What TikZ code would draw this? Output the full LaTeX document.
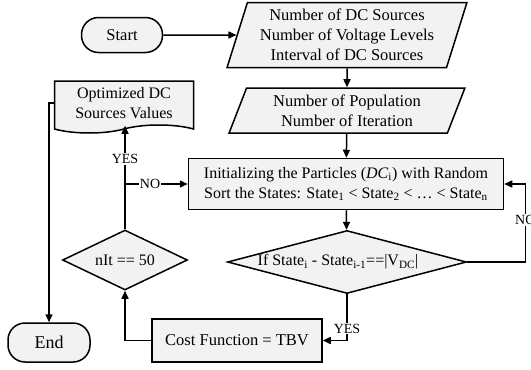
\documentclass[tikz,border=0pt]{standalone}
\usepackage{fontspec}
\setmainfont{Liberation Serif}
\usetikzlibrary{shapes.geometric,shapes.symbols,arrows.meta}
\definecolor{boxgray}{RGB}{242,242,242}

\begin{document}
\begin{tikzpicture}[
		x=1pt,y=-1pt,
		font=\fontsize{16.5}{20}\selectfont,
		box/.style={rectangle,draw,fill=boxgray,line width=1.5pt,align=center,inner sep=0pt},
		terminal/.style={box,rounded corners=17pt},
		io/.style={box,trapezium,trapezium stretches=true},
		decision/.style={box,diamond,aspect=2},
		output/.style={box,tape,tape bend top=none,tape bend bottom=in and out,tape bend height=8pt},
		flow/.style={line width=1.5pt,-{Triangle[length=8pt,width=7pt]}},
		lbl/.style={fill=white,inner sep=1pt,font=\fontsize{14}{16}\selectfont}
	]
	\useasboundingbox (0,0) rectangle (531,370);

	\node[terminal,minimum width=81pt,minimum height=35pt] (start) at (122,35) {Start};
	\node[io,trapezium left angle=71,trapezium right angle=109,
		minimum width=240pt,minimum height=65pt] (sources) at (347,35)
		{Number of DC Sources\\Number of Voltage Levels\\Interval of DC Sources};
	\node[io,trapezium left angle=68,trapezium right angle=112,
		minimum width=236pt,minimum height=45pt] (population) at (347,110.5)
		{Number of Population\\Number of Iteration};
	\node[box,minimum width=315pt,minimum height=51pt,font=\fontsize{16}{20}\selectfont] (init) at (346,184)
		{Initializing the Particles (\textit{DC}\textsubscript{i}) with Random\\
		Sort the States: State\textsubscript{1} < State\textsubscript{2} < … < State\textsubscript{n}};
	\node[decision,minimum width=239pt,minimum height=63pt,font=\fontsize{16}{20}\selectfont] (check) at (347,262)
		{\makebox[0pt]{If State\textsubscript{i} - State\textsubscript{i-1}==|V\textsubscript{DC}|\hspace{18pt}}};
	\node[box,minimum width=170pt,minimum height=43pt] (cost) at (237,340.5) {Cost Function = TBV};
	\node[decision,minimum width=125pt,minimum height=60pt,font=\fontsize{16}{20}\selectfont] (iter) at (125,260) {nIt == 50};
	\node[output,minimum width=139pt,minimum height=52pt,font=\fontsize{16}{20}\selectfont] (result) at (124,103)
		{Optimized DC\\Sources Values};
	\node[terminal,minimum width=82pt,minimum height=39pt,font=\fontsize{18}{20}\selectfont] (stop) at (49,342.5) {End};

	\draw[flow] (start) -- (sources);
	\draw[flow] (sources) -- (population);
	\draw[flow] (population) -- (init);
	\draw[flow] (init) -- (check);
	\draw[flow] (check.east) -- ++(58,0) |- node[lbl,pos=0.27]{NO} (init.east);
	\draw[flow] (check.south) |- node[lbl,pos=0.37]{YES} (cost.east);
	\draw[flow] (cost.west) -| (iter.south);
	\draw[flow] (iter.north) -- node[lbl,pos=0.68]{YES} (iter.north |- result.south);
	\draw[flow] (iter.north |- init.west) -- node[lbl,pos=0.4]{NO} (init.west);
	\draw[flow] (result.west) -| (stop.north);
\end{tikzpicture}
\end{document}
